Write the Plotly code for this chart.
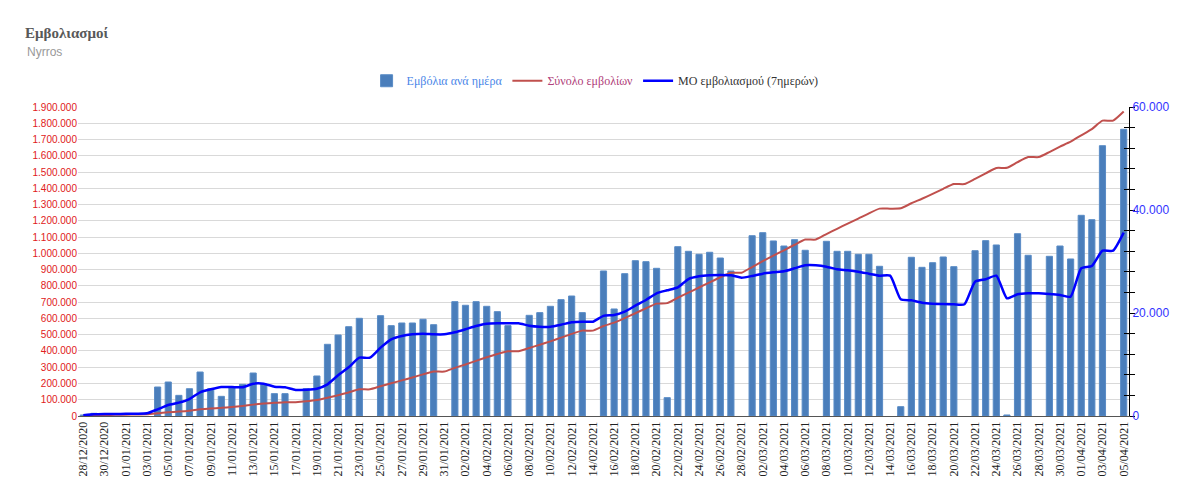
import plotly.graph_objects as go

# dates on the x axis (one per day)
dates = ["28/12/2020", "29/12/2020", "30/12/2020", "31/12/2020",
         "01/01/2021", "02/01/2021", "03/01/2021", "04/01/2021", "05/01/2021", "06/01/2021", "07/01/2021",
         "08/01/2021", "09/01/2021", "10/01/2021", "11/01/2021", "12/01/2021", "13/01/2021", "14/01/2021",
         "15/01/2021", "16/01/2021", "17/01/2021", "18/01/2021", "19/01/2021", "20/01/2021", "21/01/2021",
         "22/01/2021", "23/01/2021", "24/01/2021", "25/01/2021", "26/01/2021", "27/01/2021", "28/01/2021",
         "29/01/2021", "30/01/2021", "31/01/2021",
         "01/02/2021", "02/02/2021", "03/02/2021", "04/02/2021", "05/02/2021", "06/02/2021", "07/02/2021",
         "08/02/2021", "09/02/2021", "10/02/2021", "11/02/2021", "12/02/2021", "13/02/2021", "14/02/2021",
         "15/02/2021", "16/02/2021", "17/02/2021", "18/02/2021", "19/02/2021", "20/02/2021", "21/02/2021",
         "22/02/2021", "23/02/2021", "24/02/2021", "25/02/2021", "26/02/2021", "27/02/2021", "28/02/2021",
         "01/03/2021", "02/03/2021", "03/03/2021", "04/03/2021", "05/03/2021", "06/03/2021", "07/03/2021",
         "08/03/2021", "09/03/2021", "10/03/2021", "11/03/2021", "12/03/2021", "13/03/2021", "14/03/2021",
         "15/03/2021", "16/03/2021", "17/03/2021", "18/03/2021", "19/03/2021", "20/03/2021", "21/03/2021",
         "22/03/2021", "23/03/2021", "24/03/2021", "25/03/2021", "26/03/2021", "27/03/2021", "28/03/2021",
         "29/03/2021", "30/03/2021", "31/03/2021",
         "01/04/2021", "02/04/2021", "03/04/2021", "04/04/2021", "05/04/2021"]

# vaccinations per day (None = no data that day)
daily = [200, 520, 450, None, None, None, None, 5630, 6600, 4010, 5300,
         8540, 5300, 3820, 5500, 6150, 8350, 6150,
         4340, 4340, None, 5300, 7770, 13920, 15730,
         17340, 18970, None, 19480, 17540, 18060, 18060,
         18780, 17730, None,
         22200, 21500, 22200, 21300, 20260, 17540, None,
         19550, 20070, 21300, 22590, 23300, 20070, None,
         28160, 20780, 27640, 30160, 29970, 28680, 3560,
         32880, 31980, 31400, 31790, 30680, 28160, None,
         35010, 35600, 33990, 33010, 34240, 32180, None,
         33920, 31980, 31980, 31400, 31400, 29070, None,
         1810, 30820, 28870, 29770, 30880, 29000, None,
         32100, 34050, 33210, 200, 35400, 31210, None,
         31010, 33010, 30490,
         38970, 38120, 52490, None, 55670]

# total vaccinations (left axis)
total = [500, 2000, 5000, 7000, 8000, 9000, 10000, 16500, 23000, 27000, 32500,
         41000, 46500, 50000, 55500, 62000, 70000, 76500,
         81000, 85000, 85000, 90000, 98000, 112000, 128000,
         145000, 164000, 164000, 183000, 201000, 219000, 237000,
         256000, 273000, 273000,
         296000, 317000, 339000, 361000, 381000, 398000, 398000,
         418000, 438000, 459000, 482000, 505000, 525000, 525000,
         553000, 574000, 602000, 632000, 662000, 691000, 694000,
         727000, 759000, 790000, 822000, 853000, 881000, 881000,
         916000, 952000, 986000, 1019000, 1053000, 1085000, 1085000,
         1119000, 1151000, 1183000, 1214000, 1246000, 1275000, 1275000,
         1277000, 1308000, 1336000, 1366000, 1397000, 1426000, 1426000,
         1458000, 1492000, 1525000, 1526000, 1561000, 1592000, 1592000,
         1623000, 1656000, 1687000,
         1726000, 1764000, 1816000, 1816000, 1872000]

# 7-day moving average (right axis)
ma7 = [130, 330, 390, 400, 420, 450, 520, 1300, 2140, 2590, 3300,
       4600, 5180, 5630, 5630, 5570, 6270, 6270,
       5690, 5570, 5050, 5110, 5300, 6150, 7900,
       9450, 11320, 11320, 13270, 14890, 15540, 15870,
       15990, 15870, 15870,
       16250, 16840, 17480, 17920, 18000, 18000, 18000,
       17540, 17340, 17340, 17730, 18200, 18310, 18310,
       19450, 19610, 20260, 21420, 22530, 23830, 24410,
       24990, 26600, 27130, 27320, 27380, 27320, 26860,
       27190, 27640, 27900, 28100, 28680, 29260, 29260,
       29000, 28490, 28300, 28030, 27640, 27250, 27250,
       22660, 22470, 22000, 21810, 21750, 21690, 21690,
       26080, 26550, 27250, 22860, 23630, 23830, 23830,
       23690, 23500, 23170,
       28680, 29130, 32100, 32100, 35600]

left_ticks = list(range(0, 1900001, 100000))
right_ticks = [0, 20000, 40000, 60000]

# page body adds ~8px offset, so the figure is drawn a bit smaller
W, H = 1192, 493

fig = go.Figure()

fig.add_trace(go.Bar(
    x=dates, y=daily, yaxis="y",
    name="<span style='color:#4a86e8'>Εμβόλια ανά ημέρα</span>",
    marker=dict(color="#4a7ebb", line=dict(color="#5a8cc6", width=1)),
))
fig.add_trace(go.Scatter(
    x=dates, y=total, yaxis="y2", mode="lines",
    name="<span style='color:#b0407a'>Σύνολο εμβολίων</span>",
    line=dict(color="#c0504d", width=2, shape="spline", smoothing=0.5),
))
fig.add_trace(go.Scatter(
    x=dates, y=ma7, yaxis="y3", mode="lines",
    name="<span style='color:#333333'>ΜΟ εμβολιασμού (7ημερών)</span>",
    line=dict(color="#0000ff", width=2.5, shape="spline", smoothing=0.5),
))

fig.update_layout(
    width=W, height=H,
    margin=dict(l=70, r=71, t=99, b=85),
    paper_bgcolor="white", plot_bgcolor="white",
    separators=",.",
    bargap=0.42,
    showlegend=True,
    legend=dict(orientation="h", x=0.492, xanchor="center", y=1.085, yanchor="middle",
                font=dict(family="Liberation Serif", size=12), itemwidth=30),
    title=dict(text="<b>Εμβολιασμοί</b>", x=17 / W, xref="container", xanchor="left",
               y=1 - 25 / H, yref="container", yanchor="middle",
               font=dict(family="Liberation Serif", size=15, color="#595959")),
    xaxis=dict(type="category", tickmode="array", tickvals=dates[::2], ticktext=dates[::2],
               tickangle=-90, tickfont=dict(family="Liberation Serif", size=12, color="#222222"),
               showgrid=False, showline=True, linecolor="#555555", linewidth=1,
               ticks="", range=[-0.5, len(dates) - 0.5]),
    yaxis=dict(range=[0, 60000], side="right", tickvals=right_ticks, tickformat=",d",
               tickfont=dict(family="Liberation Sans", size=12, color="#3333ff"),
               showgrid=False, showline=True, linecolor="#000000", linewidth=1,
               ticks="", zeroline=False,
               minor=dict(dtick=4000, ticks="outside", ticklen=5, tickcolor="#000000", showgrid=False)),
    yaxis2=dict(range=[0, 1900000], side="left", overlaying="y", tickvals=left_ticks, tickformat=",d",
                tickfont=dict(family="Liberation Sans", size=10, color="#e02020"),
                showgrid=True, gridcolor="#d9d9d9", gridwidth=1, zeroline=False, ticks=""),
    yaxis3=dict(range=[0, 60000], side="right", overlaying="y", showticklabels=False,
                showgrid=False, zeroline=False, ticks="",
                minor=dict(dtick=4000, ticks="inside", ticklen=5, tickcolor="#000000", showgrid=False)),
)

fig.add_annotation(text="Nyrros", xref="paper", yref="paper", x=(25 - 78) / 1051, y=(416 - 52) / 309,
                   xanchor="left", yanchor="middle", showarrow=False,
                   font=dict(family="Liberation Sans", size=12, color="#999999"))

fig.write_html("out.html")
